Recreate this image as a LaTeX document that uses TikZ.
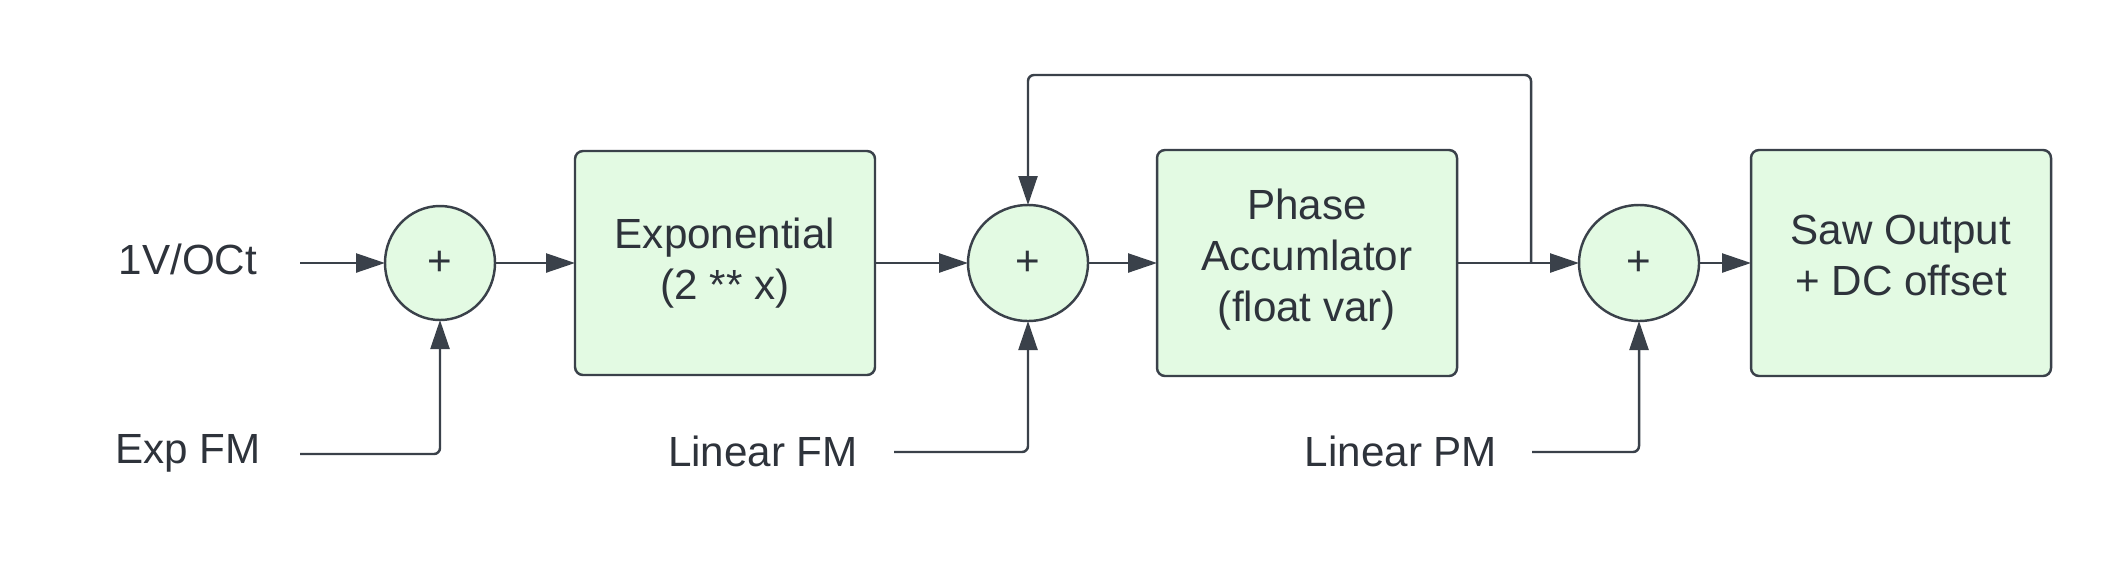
\documentclass[tikz,border=0pt]{standalone}
\usepackage{fontspec}
\setmainfont{Liberation Sans}
\usetikzlibrary{arrows.meta,shapes.geometric}
\definecolor{boxfill}{HTML}{E3FAE3}
\definecolor{linegray}{HTML}{3A414A}
\definecolor{textgray}{HTML}{2E333B}

\begin{document}
\begin{tikzpicture}[every node/.style={font=\fontsize{12}{14.5}\selectfont, text=textgray, align=center, outer sep=0pt},
        block/.style={draw=linegray, fill=boxfill, line width=0.7pt, rounded corners=0.08cm, minimum width=3cm, minimum height=2.24cm},
        sum/.style={draw=linegray, fill=boxfill, line width=0.7pt, ellipse, inner sep=0pt, minimum width=1.2cm, minimum height=1.16cm},
        wire/.style={draw=linegray, line width=0.7pt, rounded corners=0.06cm, -{Triangle[length=2.9mm,width=1.9mm]}}]
            \useasboundingbox (0,0) rectangle (21.28,5.85);
            % labels of the inputs
            \node (oct) at (1.88,3.26) {1V/OCt};
            \node (expfm) at (1.88,1.32) {Exp FM};
            \node (linfm) at (7.63,1.34) {Linear FM};
            \node (linpm) at (14.01,1.34) {Linear PM};
            \coordinate (octin) at (3.00,3.22);
            \coordinate (expin) at (3.00,1.31);
            \coordinate (linin) at (8.94,1.33);
            \coordinate (pmin) at (15.32,1.33);
            % summing points and blocks
            \node[sum, minimum width=1.1cm, minimum height=1.14cm] (sumexp) at (4.40,3.22) {+};
            \node[block] (expo) at (7.25,3.22) {Exponential\\(2 ** x)\\[-12pt]\phantom{x}};
            \node[sum] (sumfm) at (10.28,3.22) {+};
            \node[block, minimum height=2.26cm] (phase) at (13.07,3.22) {Phase\\Accumlator\\(float var)\\[-10pt]\phantom{x}};
            \node[sum] (sumpm) at (16.39,3.22) {+};
            \node[block, minimum height=2.26cm] (saw) at (19.01,3.22) {Saw Output\\+ DC offset\\[-10pt]\phantom{x}};
            \coordinate (tap) at (15.31,3.22);
            % connectors
            \draw[wire] (octin) -- (sumexp);
            \draw[wire] (expin) -| (sumexp);
            \draw[wire] (sumexp) -- (expo);
            \draw[wire] (expo) -- (sumfm);
            \draw[wire] (linin) -| (sumfm);
            \draw[wire] (sumfm) -- (phase);
            \draw[wire] (phase) -- (sumpm);
            \draw[wire] (tap) |- (10.28,5.10) -- (sumfm);
            \draw[wire] (pmin) -| (sumpm);
            \draw[wire] (sumpm) -- (saw);
        \end{tikzpicture}
\end{document}
